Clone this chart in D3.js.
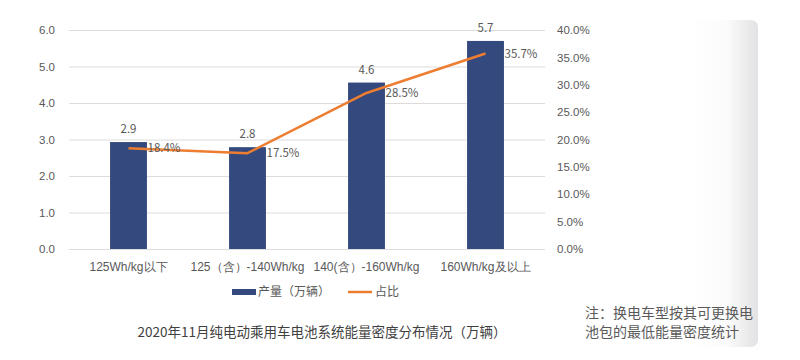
<!DOCTYPE html>
<html>
<head>
<meta charset="utf-8">
<script src="https://cdn.jsdelivr.net/npm/d3@7"></script>
<style>
  body { margin: 0; background: #fff; }
  svg { display: block; font-family: "Noto Sans CJK SC", "Noto Sans", sans-serif; }
</style>
</head>
<body>
<div id="chart"></div>
<script>
const categories = ['125Wh/kg以下', '125（含）-140Wh/kg', '140(含）-160Wh/kg', '160Wh/kg及以上'];
const output = [2.93, 2.79, 4.56, 5.7];
const outputLabels = ['2.9', '2.8', '4.6', '5.7'];
const share = [0.184, 0.175, 0.285, 0.357];
const shareLabels = ['18.4%', '17.5%', '28.5%', '35.7%'];
const leftTicks = [0, 1, 2, 3, 4, 5, 6];
const rightTicks = [0, 0.05, 0.1, 0.15, 0.2, 0.25, 0.3, 0.35, 0.4];
const legendNames = ['产量（万辆）', '占比'];
const title = '2020年11月纯电动乘用车电池系统能量密度分布情况（万辆）';
const note = ['注：换电车型按其可更换电', '池包的最低能量密度统计'];

const W = 800, H = 360;
const margin = { top: 30, left: 69, right: 255, bottom: 111 };
const width = W - margin.left - margin.right;
const height = H - margin.top - margin.bottom;

const svg = d3.select('#chart').append('svg')
  .attr('width', W)
  .attr('height', H);

// grey shaded panel on the right
const defs = svg.append('defs');
const grad = defs.append('linearGradient').attr('id', 'panel')
  .attr('x1', 0).attr('x2', 1).attr('y1', 0).attr('y2', 0);
grad.append('stop').attr('offset', '0%').attr('stop-color', '#ffffff');
grad.append('stop').attr('offset', '55%').attr('stop-color', '#fbfbfb');
grad.append('stop').attr('offset', '100%').attr('stop-color', '#e2e2e4');
svg.append('rect')
  .attr('x', 690).attr('y', 20).attr('width', 68).attr('height', 327)
  .attr('rx', 7)
  .attr('fill', 'url(#panel)');

const g = svg.append('g').attr('transform', `translate(${margin.left},${margin.top})`);

const x = d3.scaleBand().domain(categories).range([0, width]);
const barW = x.bandwidth() * 0.31;
const cx = c => x(c) + x.bandwidth() / 2;
const y = d3.scaleLinear().domain([0, 6]).range([height, 0]);
const y2 = d3.scaleLinear().domain([0, 0.4]).range([height, 0]);

// gridlines
g.append('g')
  .call(d3.axisLeft(y).tickValues(leftTicks).tickSize(-width).tickFormat(''))
  .call(s => s.select('.domain').remove())
  .selectAll('line').attr('stroke', '#dcdcdc');

// left axis
g.append('g')
  .call(d3.axisLeft(y).tickValues(leftTicks).tickSize(0).tickPadding(14).tickFormat(d3.format('.1f')))
  .call(s => s.select('.domain').remove())
  .selectAll('text').attr('fill', '#595959').style('font-size', '11.5px');

// right axis
g.append('g')
  .attr('transform', `translate(${width},0)`)
  .call(d3.axisRight(y2).tickValues(rightTicks).tickSize(0).tickPadding(12).tickFormat(d3.format('.1%')))
  .call(s => s.select('.domain').remove())
  .selectAll('text').attr('fill', '#595959').style('font-size', '11.5px');

// x axis labels
g.append('g')
  .attr('transform', `translate(0,${height})`)
  .call(d3.axisBottom(x).tickSize(0).tickPadding(13))
  .call(s => s.select('.domain').remove())
  .selectAll('text').attr('fill', '#595959').style('font-size', '12px');

// bars
g.selectAll('.bar')
  .data(output)
  .enter().append('rect')
  .attr('class', 'bar')
  .attr('x', (d, i) => cx(categories[i]) - barW / 2)
  .attr('y', d => y(d))
  .attr('width', barW)
  .attr('height', d => height - y(d))
  .attr('fill', '#34497e');

// bar value labels
g.selectAll('.bar-label')
  .data(output)
  .enter().append('text')
  .attr('x', (d, i) => cx(categories[i]))
  .attr('y', d => y(d) - 9)
  .attr('text-anchor', 'middle')
  .attr('fill', '#595959')
  .style('font-size', '11.5px')
  .text((d, i) => outputLabels[i]);

// share line
const line = d3.line()
  .x((d, i) => cx(categories[i]))
  .y(d => y2(d));
g.append('path')
  .datum(share)
  .attr('d', line)
  .attr('fill', 'none')
  .attr('stroke', '#ed7d31')
  .attr('stroke-width', 2.5)
  .attr('stroke-linejoin', 'round');

// share labels
g.selectAll('.share-label')
  .data(share)
  .enter().append('text')
  .attr('x', (d, i) => cx(categories[i]) + 19)
  .attr('y', d => y2(d) + 4)
  .attr('fill', '#595959')
  .style('font-size', '11.5px')
  .text((d, i) => shareLabels[i]);

// legend
const legend = svg.append('g').attr('transform', 'translate(232,292)');
legend.append('rect').attr('x', 0).attr('y', -3).attr('width', 24).attr('height', 6).attr('fill', '#34497e');
legend.append('text').attr('x', 26).attr('y', 4).attr('fill', '#595959').style('font-size', '12px').text(legendNames[0]);
legend.append('line').attr('x1', 116).attr('x2', 140).attr('y1', 0).attr('y2', 0)
  .attr('stroke', '#ed7d31').attr('stroke-width', 2.5);
legend.append('text').attr('x', 143).attr('y', 4).attr('fill', '#595959').style('font-size', '12px').text(legendNames[1]);

// title
svg.append('text')
  .attr('x', 322).attr('y', 337)
  .attr('text-anchor', 'middle')
  .attr('fill', '#404040')
  .style('font-size', '13.5px')
  .text(title);

// note
svg.selectAll('.note')
  .data(note)
  .enter().append('text')
  .attr('x', 585)
  .attr('y', (d, i) => 318 + i * 19)
  .attr('fill', '#595959')
  .style('font-size', '14px')
  .text(d => d);
</script>
</body>
</html>
